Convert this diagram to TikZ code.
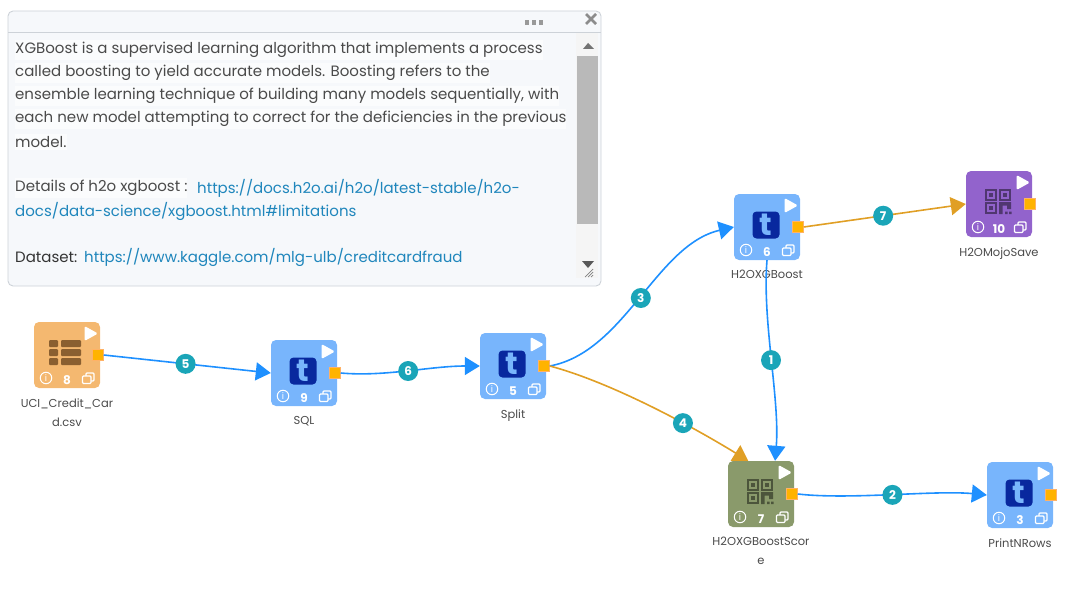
\documentclass[tikz,border=0pt]{standalone}
\usepackage{fontspec}
\setmainfont{Poppins}
\usetikzlibrary{positioning,arrows.meta}
\definecolor{csvorange}{HTML}{F4B870}
\definecolor{csvbrown}{HTML}{8A5F30}
\definecolor{taskblue}{HTML}{78B5FC}
\definecolor{scoregreen}{HTML}{8A9A6B}
\definecolor{savepurple}{HTML}{9263CC}
\definecolor{portyellow}{HTML}{FFB300}
\definecolor{wireblue}{HTML}{1E90FF}
\definecolor{wireorange}{HTML}{E09F25}
\definecolor{badgeteal}{HTML}{1AA5B8}
\definecolor{iconnavy}{HTML}{08289E}
\definecolor{panelbg}{HTML}{F6F8FB}
\definecolor{panelline}{HTML}{CDD2D8}
\definecolor{linkblue}{HTML}{1F86BC}
\definecolor{bodygray}{HTML}{4A4A4A}
\tikzset{
  taskbox/.style={rectangle,rounded corners=5pt,minimum size=66pt,inner sep=0pt},
  portbox/.style={rectangle,fill=portyellow,draw=orange!60,line width=0.5pt,minimum size=11pt,inner sep=0pt},
  badge/.style={circle,fill=badgeteal,text=white,minimum size=20pt,inner sep=0pt,font=\fontsize{12}{12}\selectfont\bfseries},
  wire/.style={line width=1.6pt,wireblue,-{Triangle[length=15pt,width=18pt]}},
  wireo/.style={wire,wireorange},
  tasklabel/.style={text=bodygray,align=center,inner sep=0pt,font=\fontsize{11.5}{19}\selectfont},
  textline/.style={anchor=west,inner xsep=0pt,inner ysep=2pt,fill=white!60!panelbg,text=bodygray,font=\fontsize{15}{16}\selectfont},
  tasknum/.style={text=white,inner sep=0pt,font=\fontsize{12}{12}\selectfont\bfseries},
  infoicon/.style={circle,draw=white,line width=1pt,text=white,minimum size=11.5pt,inner sep=0pt,font=\fontsize{9}{9}\selectfont},
  copyicon/.style={draw=white,line width=1.1pt,rounded corners=1pt}
}
\begin{document}
\begin{tikzpicture}[x=1pt,y=-1pt]
\useasboundingbox (0,0) rectangle (1086,594);
% text panel
\node[draw=panelline,fill=panelbg,line width=0.9pt,rounded corners=5pt,minimum width=593pt,minimum height=275pt,inner sep=0pt] (panel) at (304.5,148.5) {};
\draw[panelline,line width=0.9pt] (8,32) -- (601,32);
\foreach \x in {527,534,541} {
    \fill[gray!80] (\x-2,20) rectangle (\x+2,25);
}
\draw[gray!90,line width=2.8pt] (586,14) -- (596,24) (596,14) -- (586,24);
\fill[black!4] (576,33) rectangle (598,278);
\fill[gray!55] (577,56) rectangle (598,224);
\fill[gray!90!black] (583,49) -- (588,43) -- (594,49) -- cycle;
\fill[black!65] (582,261) -- (594,261) -- (588,268) -- cycle;
\draw[gray,line width=0.7pt] (585,277) -- (593,269) (588,277) -- (593,272) (591,277) -- (593,275);
\node[textline] (line1) at (15,50) {XGBoost is a supervised learning algorithm that implements a process};
\node[textline] (line2) at (15,73) {called boosting to yield accurate models. Boosting refers to the};
\node[textline] (line3) at (15,96) {ensemble learning technique of building many models sequentially, with};
\node[textline] (line4) at (15,119) {each new model attempting to correct for the deficiencies in the previous};
\node[textline] (line5) at (15,142) {model.};
\node[textline] (line6) at (15,188) {Details of h2o xgboost :};
\node[textline,fill=none,text=linkblue,anchor=west,inner xsep=0pt] (link1) at (197,188) {https://docs.h2o.ai/h2o/latest-stable/h2o-};
\node[textline,fill=none,text=linkblue] (link2) at (15,211) {docs/data-science/xgboost.html\#limitations};
\node[textline,fill=none,text=black!80] (line7) at (15,257) {Dataset:};
\node[textline,fill=none,text=linkblue] (link3) at (84,257) {https://www.kaggle.com/mlg-ulb/creditcardfraud};
% task boxes
\foreach \nm/\px/\py/\col/\num/\lab in {csv/67/355/csvorange/8/{UCI\_Credit\_Car\\d.csv},
  sql/304/373/taskblue/9/SQL,
  split/513/366/taskblue/5/Split,
  xgb/767/227/taskblue/6/H2OXGBoost,
  mojo/999/204/savepurple/10/H2OMojoSave,
  score/761/494/scoregreen/7/{H2OXGBoostScor\\e},
  print/1020/495/taskblue/3/PrintNRows} {
    \node[taskbox,fill=\col] (\nm) at (\px,\py) {};
    \node[portbox] (\nm port) at (\px+31,\py) {};
    \fill[white,rounded corners=1.5pt] (\px+17.5,\py-29) -- (\px+31,\py-21.5) -- (\px+17.5,\py-14) -- cycle;
    \node[infoicon] (\nm info) at (\px-21,\py+23) {i};
    \node[tasknum] (\nm num) at (\px,\py+25) {\num};
    \draw[copyicon] (\px+19,\py+18) rectangle (\px+27,\py+26);
    \draw[copyicon,fill=\col] (\px+15.5,\py+21) rectangle (\px+24,\py+28.5);
    \node[tasklabel,below=10pt of \nm] (\nm label) {\lab};
}
% t icons
\foreach \nm in {sql,split,xgb,print} {
    \node[rectangle,rounded corners=4pt,fill=iconnavy,minimum size=27pt,inner sep=0pt,xshift=-1pt,yshift=2pt] (\nm icon) at (\nm) {};
    \node[text=taskblue,inner sep=0pt,font=\fontsize{31}{31}\selectfont\bfseries] (\nm letter) at (\nm icon) {t};
}
% table icon
\foreach \y in {-15,-6,3} {
    \fill[rounded corners=1pt,csvbrown] (49,355+\y) rectangle (58,355+\y+7);
    \fill[rounded corners=1pt,csvbrown] (61,355+\y) rectangle (81,355+\y+7);
}
% qr icons
\foreach \nm/\px/\py/\dark in {mojo/999/204/savepurple!55!black,score/761/494/scoregreen!55!black} {
    \foreach \qx/\qy in {-14/-15,0/-15,-14/-2} {
        \draw[\dark,line width=2.4pt] (\px+\qx+1.2,\py+\qy+1.2) rectangle (\px+\qx+10.8,\py+\qy+10.8);
        \fill[\dark] (\px+\qx+4.2,\py+\qy+4.2) rectangle (\px+\qx+7.8,\py+\qy+7.8);
    }
    \fill[\dark] (\px,\py-2) -- (\px+12,\py-2) -- (\px+12,\py+5) -- (\px+8,\py+5) -- (\px+8,\py+1.5) -- (\px+3.5,\py+1.5) -- (\px+3.5,\py+10) -- (\px,\py+10) -- cycle;
    \fill[\dark] (\px+6,\py+7.5) rectangle (\px+8.5,\py+10) (\px+10,\py+7.5) rectangle (\px+12.5,\py+10);
}
% connectors
\draw[wire] (csvport.east) -- node[badge,pos=0.49] (badge5) {5} (sql.west);
\draw[wire] (sqlport.east) .. controls (385,377) and (430,366) .. node[badge,pos=0.5] (badge6) {6} (split.west);
\draw[wire] (splitport.east) .. controls (625,352) and (656,245) .. node[badge,pos=0.5] (badge3) {3} (xgb.west);
\draw[wireo] (splitport.east) .. controls (610,382) and (690,425) .. node[badge,pos=0.66] (badge4) {4} (score.111);
\draw[wire] (xgb.south) .. controls (762,320) and (780,400) .. node[badge,pos=0.5] (badge1) {1} (score.67);
\draw[wire] (scoreport.east) .. controls (850,500) and (935,490) .. node[badge,pos=0.5] (badge2) {2} (print.west);
\draw[wireo] (xgbport.east) -- node[badge,pos=0.49] (badge7) {7} (mojo.west);
\end{tikzpicture}
\end{document}
